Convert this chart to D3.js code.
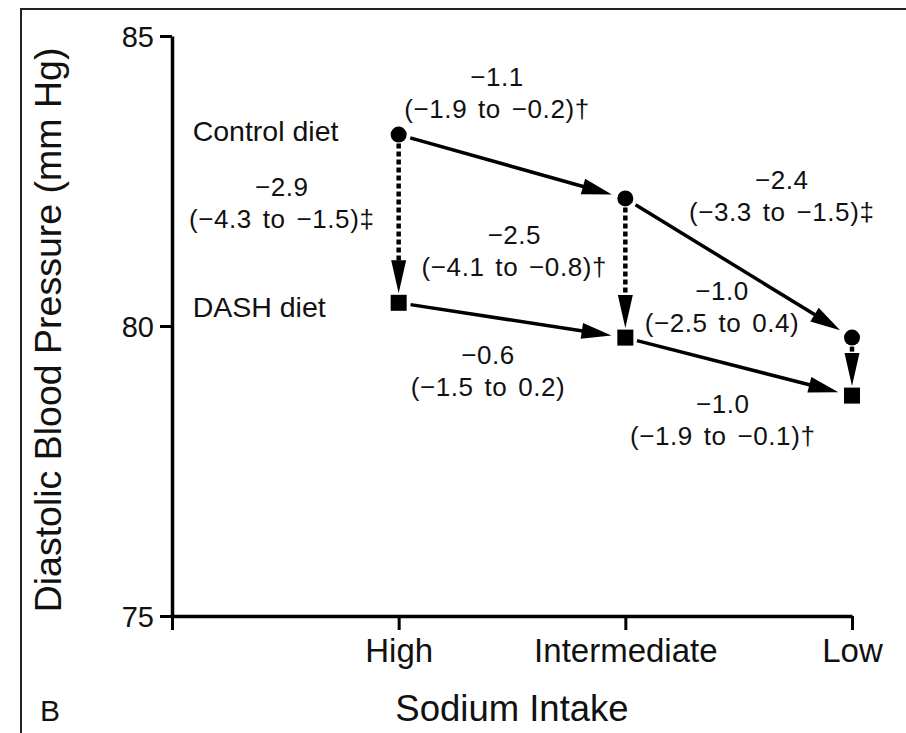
<!DOCTYPE html>
<html>
<head>
<meta charset="utf-8">
<script src="https://cdn.jsdelivr.net/npm/d3@7"></script>
<style>
  html, body { margin: 0; padding: 0; background: #fff; }
  svg { display: block; }
  text { font-family: "Liberation Sans", Arial, Helvetica, sans-serif; fill: #111; }
</style>
</head>
<body>
<svg id="chart" width="906" height="733"></svg>
<script>
// Sodium intake levels (x axis)
const sodiumLevels = ["High", "Intermediate", "Low"];
// Mean diastolic blood pressure, mm Hg
const controlDiet = [83.3, 82.2, 79.8];
const dashDiet = [80.4, 79.8, 78.8];
// Y axis ticks
const yTicks = [75, 80, 85];

// Effect estimates along the sodium path (solid arrows): control H→I, control I→L, DASH H→I, DASH I→L
const sodiumEffects = ["\u22121.1", "\u22122.4", "\u22120.6", "\u22121.0"];
const sodiumCIs = ["(\u22121.9 to \u22120.2)\u2020", "(\u22123.3 to \u22121.5)\u2021", "(\u22121.5 to 0.2)", "(\u22121.9 to \u22120.1)\u2020"];
// Effect of DASH vs control at each sodium level (dotted arrows)
const dietEffects = ["\u22122.9", "\u22122.5", "\u22121.0"];
const dietCIs = ["(\u22124.3 to \u22121.5)\u2021", "(\u22124.1 to \u22120.8)\u2020", "(\u22122.5 to 0.4)"];

const svg = d3.select("#chart");

// Panel frame
svg.append("path")
  .attr("d", "M21,733 V9 H906")
  .attr("fill", "none").attr("stroke", "#222").attr("stroke-width", 2);

// Scales: x uses positional index (0 = axis origin, 1..3 = sodium levels)
const x = d3.scaleLinear().domain([0, 3]).range([172, 852]);
const y = d3.scaleLinear().domain([75, 85]).range([616, 36]);
const xi = i => x(i + 1);

// Y axis
const yAxis = svg.append("g").attr("transform", `translate(${x(0)},0)`)
  .call(d3.axisLeft(y).tickValues(yTicks).tickSize(12).tickSizeOuter(0).tickFormat(d3.format("d")));
yAxis.select(".domain").attr("stroke", "#000").attr("stroke-width", 3.5);
yAxis.selectAll(".tick line").attr("stroke", "#000").attr("stroke-width", 3);
yAxis.selectAll(".tick text").attr("x", -18).attr("dy", "0.36em")
  .style("font-size", "29px").style("font-family", "'Liberation Sans', Arial, sans-serif").attr("fill", "#111");

// X axis
const xAxis = svg.append("g").attr("transform", `translate(0,${y(75)})`)
  .call(d3.axisBottom(x).tickValues([0, 1, 2, 3]).tickSize(14).tickSizeOuter(0)
    .tickFormat(d => d === 0 ? "" : sodiumLevels[d - 1]));
xAxis.select(".domain").attr("stroke", "#000").attr("stroke-width", 3.5);
xAxis.selectAll(".tick line").attr("stroke", "#000").attr("stroke-width", 3);
xAxis.selectAll(".tick text").attr("y", 23).attr("dy", "0.71em")
  .style("font-size", "33px").style("font-family", "'Liberation Sans', Arial, sans-serif").attr("fill", "#111");

// Axis titles
svg.append("text")
  .attr("transform", `translate(61,${y(80) + 4}) rotate(-90)`)
  .attr("text-anchor", "middle")
  .style("font-size", "37.5px")
  .text("Diastolic Blood Pressure (mm Hg)");
svg.append("text")
  .attr("x", x(1.5)).attr("y", 708).attr("dy", "0.36em")
  .attr("text-anchor", "middle")
  .style("font-size", "36.5px")
  .text("Sodium Intake");
svg.append("text")
  .attr("x", 40).attr("y", 710).attr("dy", "0.36em")
  .style("font-size", "30px")
  .text("B");

// Arrow helper: line from (x1,y1) to (x2,y2) trimmed at both ends, with filled head
function arrow(x1, y1, x2, y2, trimStart, trimEnd, dashed, headLen, headHalf) {
  const dx = x2 - x1, dy = y2 - y1, L = Math.hypot(dx, dy);
  const ux = dx / L, uy = dy / L;
  const sx = x1 + ux * trimStart, sy = y1 + uy * trimStart;
  const tx = x2 - ux * trimEnd, ty = y2 - uy * trimEnd;
  const bx = tx - ux * headLen, by = ty - uy * headLen;
  svg.append("line")
    .attr("x1", sx).attr("y1", sy).attr("x2", bx + ux * 1).attr("y2", by + uy * 1)
    .attr("stroke", "#000")
    .attr("stroke-width", dashed ? 4.5 : 3.5)
    .attr("stroke-dasharray", dashed ? "5,3" : null);
  const px = -uy, py = ux;
  svg.append("path")
    .attr("d", `M${tx},${ty} L${bx + px * headHalf},${by + py * headHalf} L${bx - px * headHalf},${by - py * headHalf} Z`)
    .attr("fill", "#000");
}

const cPts = controlDiet.map((v, i) => [xi(i), y(v)]);
const dPts = dashDiet.map((v, i) => [xi(i), y(v)]);

// Solid arrows: change with sodium reduction
const solidPairs = [[cPts[0], cPts[1]], [cPts[1], cPts[2]], [dPts[0], dPts[1]], [dPts[1], dPts[2]]];
solidPairs.forEach(([a, b]) => arrow(a[0], a[1], b[0], b[1], 12, 14, false, 30, 8));

// Dotted arrows: DASH vs control at each sodium level
cPts.forEach((c, i) => arrow(c[0], c[1], dPts[i][0], dPts[i][1], 9, 9.5, true, 33, 7.5));

// Markers
svg.selectAll("circle.control").data(cPts).join("circle")
  .attr("class", "control")
  .attr("cx", d => d[0]).attr("cy", d => d[1]).attr("r", 8).attr("fill", "#000");
const sq = 16;
svg.selectAll("rect.dash").data(dPts).join("rect")
  .attr("class", "dash")
  .attr("x", d => d[0] - sq / 2).attr("y", d => d[1] - sq / 2)
  .attr("width", sq).attr("height", sq).attr("fill", "#000");

// Series labels
svg.append("text").attr("x", cPts[0][0] - 206).attr("y", cPts[0][1] - 4).attr("dy", "0.36em")
  .style("font-size", "28.5px").text("Control diet");
svg.append("text").attr("x", dPts[0][0] - 206).attr("y", dPts[0][1] + 4).attr("dy", "0.36em")
  .style("font-size", "28.5px").text("DASH diet");

// Two-line effect labels, placed relative to each arrow's midpoint
function effectLabel(a, b, dx, dy, est, ci) {
  const mx = (a[0] + b[0]) / 2 + dx, my = (a[1] + b[1]) / 2 + dy;
  const g = svg.append("g").attr("transform", `translate(${mx},${my})`)
    .style("font-size", "26px").attr("text-anchor", "middle");
  g.append("text").attr("dy", "0.36em").style("letter-spacing", "0.5px").text(est);
  g.append("text").attr("y", 32).attr("dy", "0.36em")
    .style("letter-spacing", "0.6px").style("word-spacing", "3px").text(ci);
}
const solidOffsets = [[-15, -90], [43, -88], [-24, 34], [-16, 37]];
solidPairs.forEach(([a, b], i) => effectLabel(a, b, solidOffsets[i][0], solidOffsets[i][1], sodiumEffects[i], sodiumCIs[i]));
const dietOffsets = [[-117, -32], [-111, -33], [-130, -76]];
cPts.forEach((c, i) => effectLabel(c, dPts[i], dietOffsets[i][0], dietOffsets[i][1], dietEffects[i], dietCIs[i]));
</script>
</body>
</html>
